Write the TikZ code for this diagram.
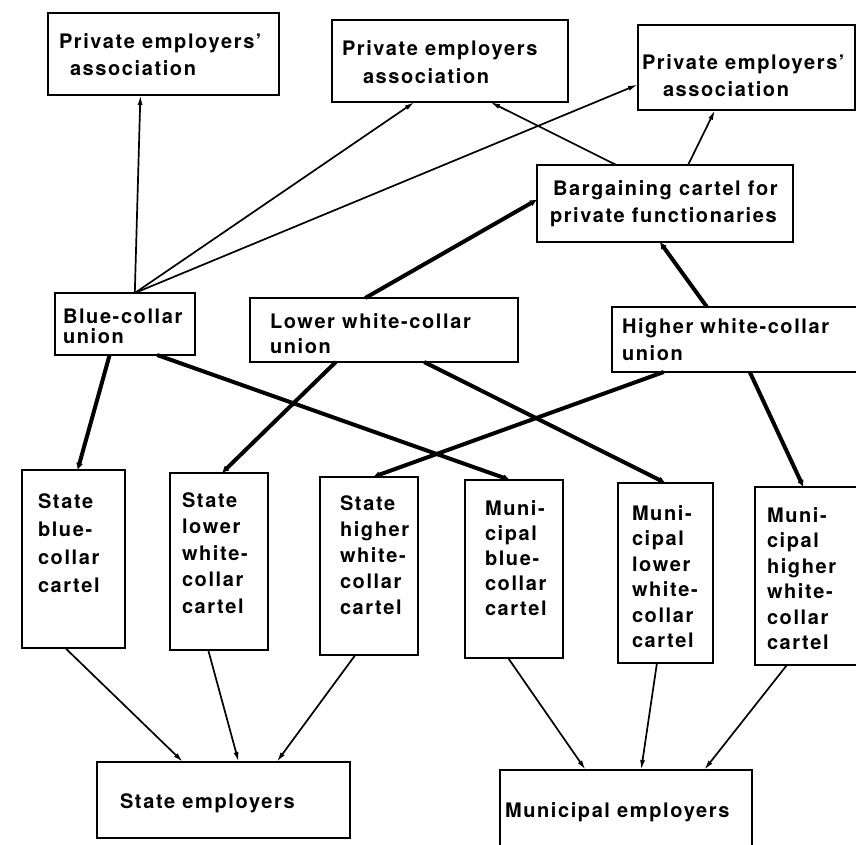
\documentclass[tikz,border=0pt]{standalone}
\usepackage{fontspec}
\setmainfont{TeX Gyre Heros}[LetterSpace=8]
\usetikzlibrary{calc,arrows.meta}
% #1 width, #2 height, #3 first baseline offset, #4 left pad, #5 baselineskip, #6 text
\newcommand{\btext}[6]{\parbox[c][#2][t]{#1}{\fontsize{20}{#5}\selectfont\leftskip=#4\relax\rightskip=0pt plus 1fil\relax\hyphenpenalty=10000\exhyphenpenalty=10000\hfuzz=60pt\hbadness=10000\rule{0pt}{#3}#6}}
\begin{document}
\begin{tikzpicture}[x=1pt,y=-1pt,
  box/.style={draw, line width=2.6pt, inner sep=0pt, outer sep=0pt, font=\bfseries},
  thinarr/.style={line width=1.7pt, -{Latex[length=10pt,width=5pt]}},
  thickarr/.style={line width=4pt, -{Latex[length=7pt,width=7pt]}}]
\useasboundingbox (0,0) rectangle (856,844);
\clip (0,0) rectangle (856,844);

% top row
\node[box] (pea1) at (163.5,54) {\btext{231pt}{82pt}{35pt}{11pt}{27pt}{Private~employers'\\\hspace*{11pt}association}};
\node[box] (pea2) at (450,61) {\btext{236pt}{82pt}{35pt}{10pt}{28pt}{Private~employers\\\hspace*{21pt}association}};
\node[box] (pea3) at (746.5,67.5) {\btext{217pt}{85pt}{44pt}{4pt}{27pt}{Private~employers'\\\hspace*{21pt}association}};
\node[box] (barg) at (665,203.5) {\btext{256pt}{77pt}{30pt}{13pt}{27pt}{\hspace*{3pt}Bargaining~cartel~for\\private~functionaries}};

% unions
\node[box] (bcu) at (125,324) {\btext{140pt}{62pt}{30pt}{8pt}{20pt}{Blue-collar\\union}};
\node[box] (lwu) at (384,330) {\btext{268pt}{64pt}{30pt}{20pt}{25pt}{Lower~white-collar\\union}};
\node[box] (hwu) at (735,339.5) {\btext{246pt}{65pt}{26pt}{10pt}{27pt}{Higher~white-collar\\union}};

% cartels
\node[box] (sbc) at (73.5,559) {\btext{103pt}{178pt}{38pt}{16pt}{28pt}{State\\blue-\\collar\\cartel}};
\node[box] (slc) at (219,561.5) {\btext{98pt}{177pt}{34pt}{12pt}{26.5pt}{State\\lower\\white-\\collar\\cartel}};
\node[box] (shc) at (369,566) {\btext{98pt}{178pt}{33pt}{20pt}{26pt}{State\\higher\\white-\\collar\\cartel}};
\node[box] (mbc) at (514,569) {\btext{98pt}{178pt}{35pt}{20pt}{25pt}{Muni-\\cipal\\blue-\\collar\\cartel}};
\node[box] (mlc) at (665.5,573) {\btext{95pt}{180pt}{37pt}{14pt}{25.5pt}{Muni-\\cipal\\lower\\white-\\collar\\cartel}};
\node[box] (mhc) at (806.5,576) {\btext{103pt}{178pt}{35pt}{12pt}{25.5pt}{Muni-\\cipal\\higher\\white-\\collar\\cartel}};

% employers
\node[box] (se) at (223.5,800) {\btext{253pt}{76pt}{46pt}{23pt}{26pt}{State~employers}};
\node[box] (me) at (626,810) {\btext{252pt}{80pt}{47pt}{5pt}{26pt}{Municipal~employers}};

% thin arrows to private employers' associations
\draw[thinarr] ($(bcu.north west)!0.57!(bcu.north east)$) -- ($(pea1.south west)!0.40!(pea1.south east)$);
\draw[thinarr] ($(bcu.north west)!0.57!(bcu.north east)$) -- ($(pea2.south west)!0.35!(pea2.south east)$);
\draw[thinarr] ($(bcu.north west)!0.57!(bcu.north east)$) -- ($(pea3.north west)!0.70!(pea3.south west)$);
\draw[thinarr] ($(barg.north west)!0.31!(barg.north east)$) -- ($(pea2.south west)!0.67!(pea2.south east)$);
\draw[thinarr] ($(barg.north west)!0.59!(barg.north east)$) -- ($(pea3.south west)!0.355!(pea3.south east)$);

% thick arrows to bargaining cartel
\draw[thickarr] ($(lwu.north west)!0.43!(lwu.north east)$) -- ($(barg.north west)!0.45!(barg.south west)$);
\draw[thickarr] ($(hwu.north west)!0.386!(hwu.north east)$) -- ($(barg.south west)!0.48!(barg.south east)$);

% thick arrows from unions to cartels
\draw[thickarr] ($(bcu.south west)!0.39!(bcu.south east)$) -- ($(sbc.north west)!0.54!(sbc.north east)$);
\draw[thickarr] ($(bcu.south west)!0.73!(bcu.south east)$) -- ($(mbc.north west)!0.46!(mbc.north east)$);
\draw[thickarr] ($(lwu.south west)!0.32!(lwu.south east)$) -- ($(slc.north west)!0.53!(slc.north east)$);
\draw[thickarr] ($(lwu.south west)!0.65!(lwu.south east)$) -- ($(mlc.north west)!0.50!(mlc.north east)$);
\draw[thickarr] ($(hwu.south west)!0.21!(hwu.south east)$) -- ($(shc.north west)!0.54!(shc.north east)$);
\draw[thickarr] ($(hwu.south west)!0.56!(hwu.south east)$) -- ($(mhc.north west)!0.47!(mhc.north east)$);

% thin arrows to employers
\draw[thinarr] ($(sbc.south west)!0.42!(sbc.south east)$) -- ($(se.north west)!0.34!(se.north east)$);
\draw[thinarr] ($(slc.south west)!0.39!(slc.south east)$) -- ($(se.north west)!0.56!(se.north east)$);
\draw[thinarr] ($(shc.south west)!0.36!(shc.south east)$) -- ($(se.north west)!0.71!(se.north east)$);
\draw[thinarr] ($(mbc.south west)!0.44!(mbc.south east)$) -- ($(me.north west)!0.34!(me.north east)$);
\draw[thinarr] ($(mlc.south west)!0.41!(mlc.south east)$) -- ($(me.north west)!0.56!(me.north east)$);
\draw[thinarr] ($(mhc.south west)!0.31!(mhc.south east)$) -- ($(me.north west)!0.81!(me.north east)$);
\end{tikzpicture}
\end{document}
